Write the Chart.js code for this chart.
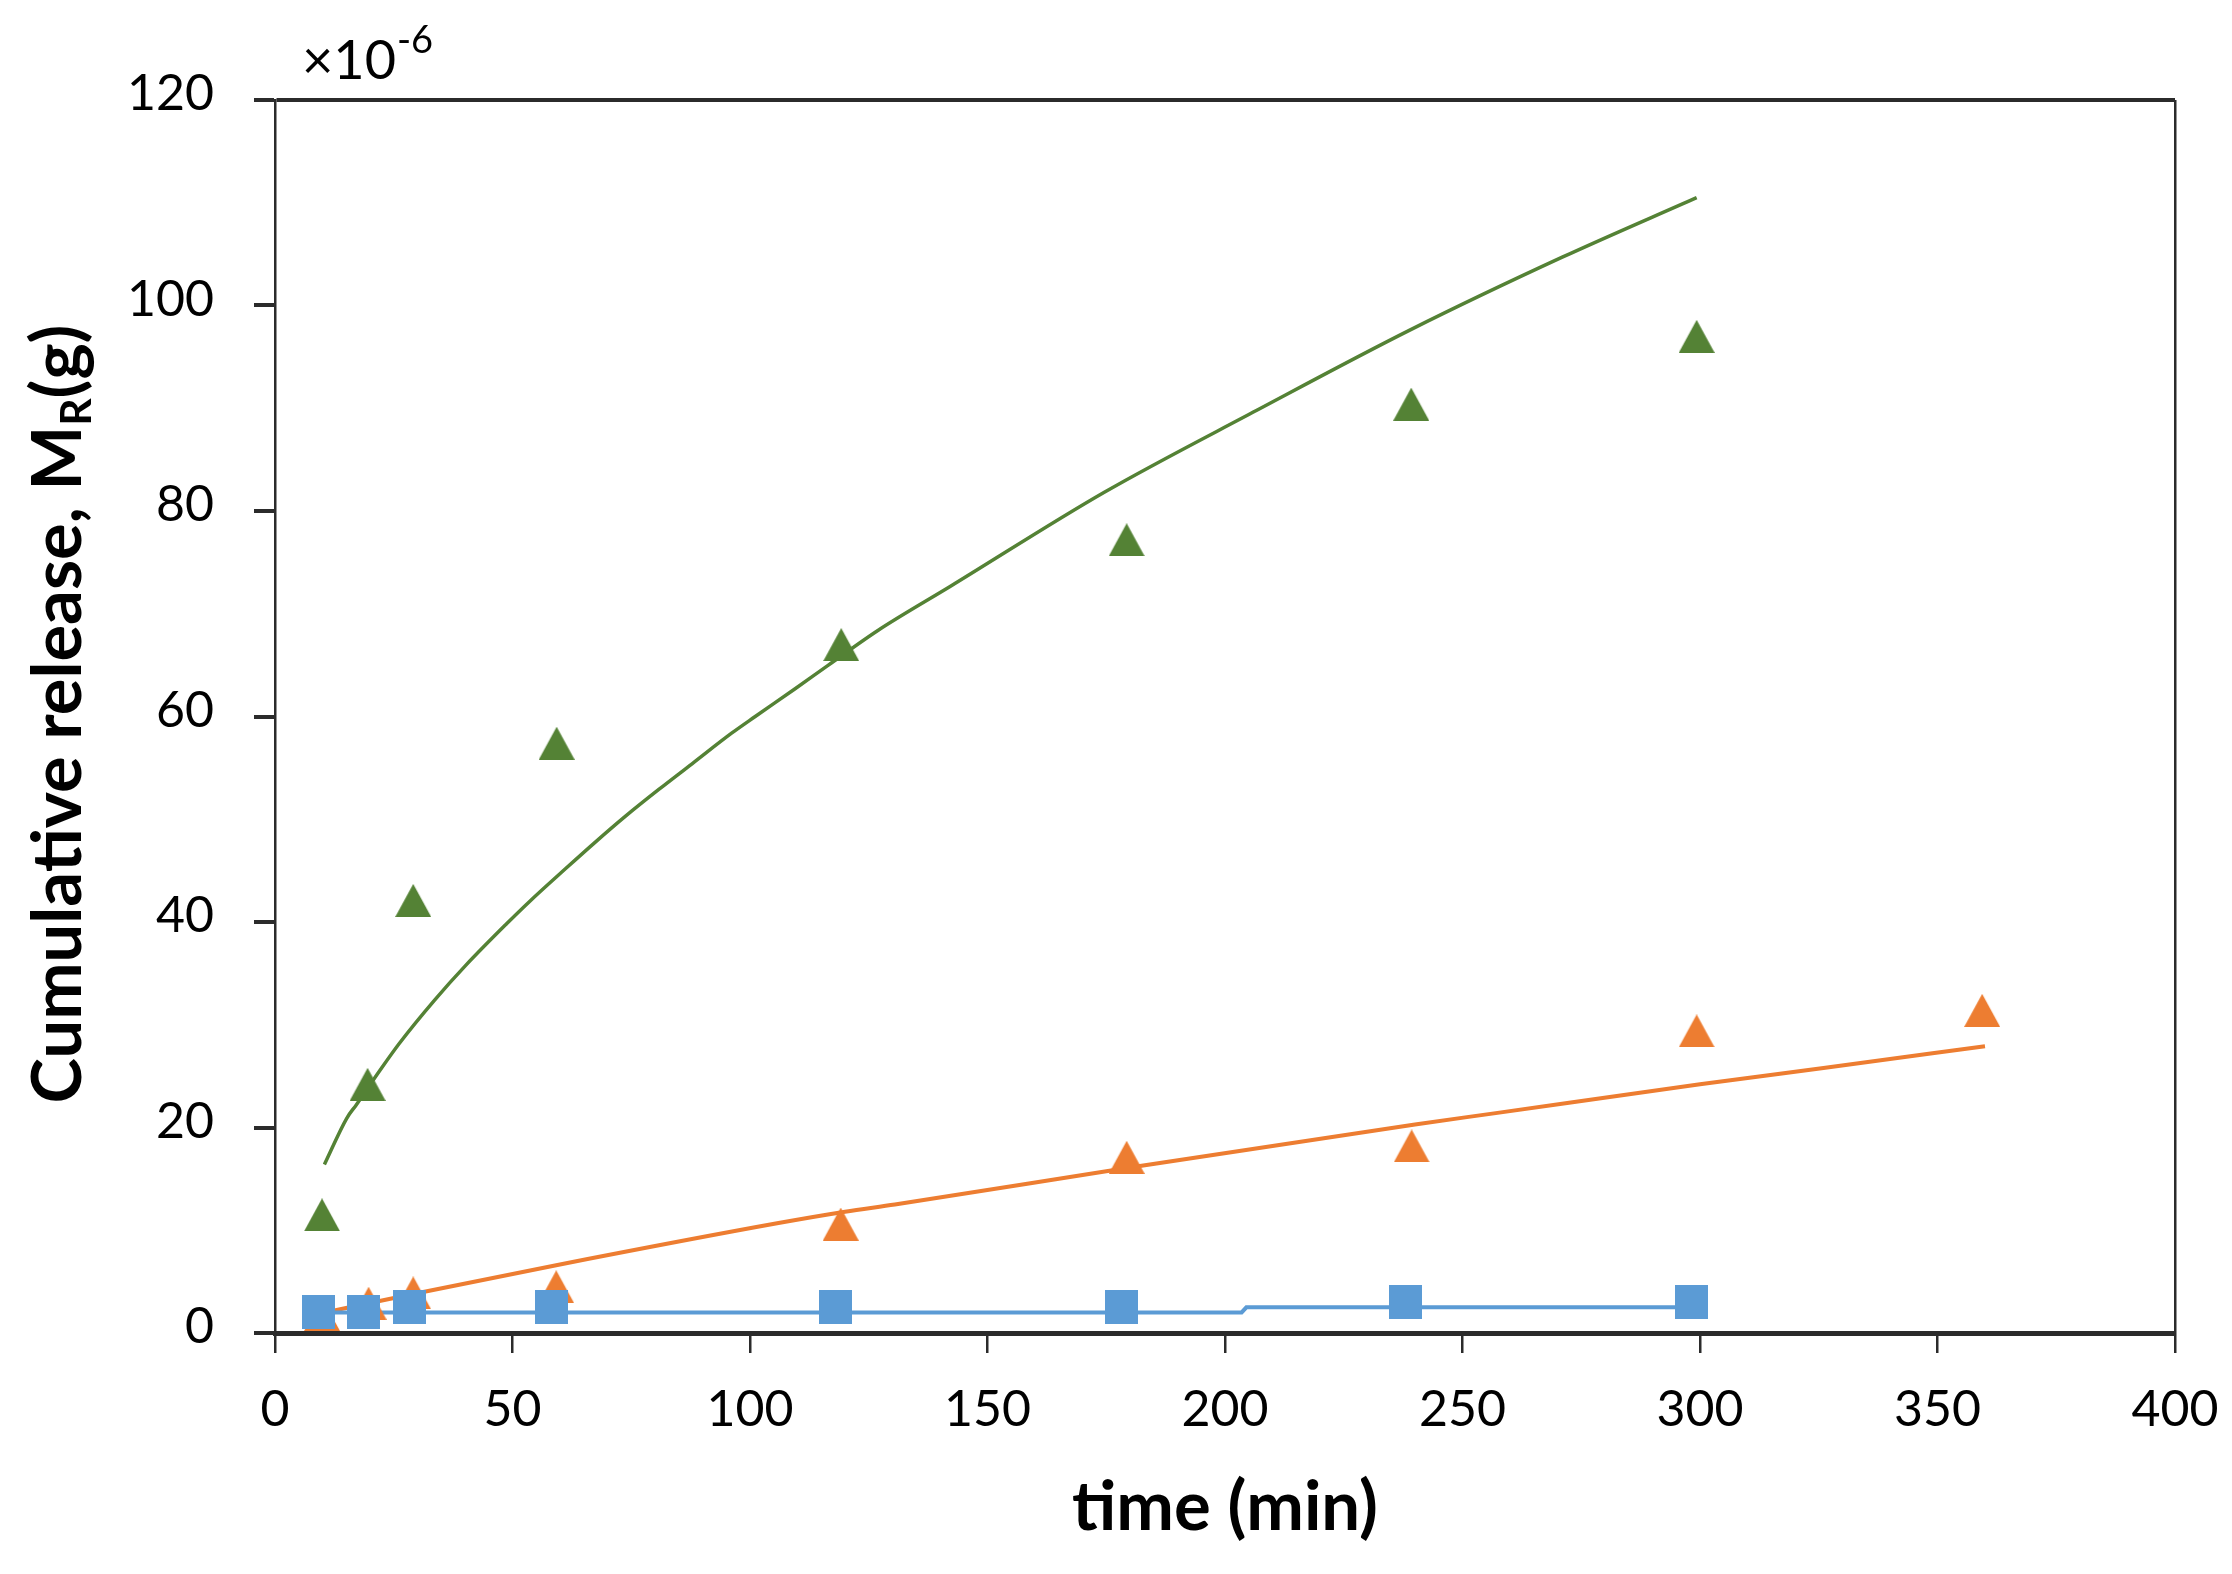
<!DOCTYPE html>
<html>
<head>
<meta charset="utf-8">
<script src="https://cdn.jsdelivr.net/npm/chart.js@4.4.1/dist/chart.umd.min.js"></script>
<style>
  html, body { margin: 0; padding: 0; background: #ffffff; overflow: hidden; }
  #c { display: block; width: 2232px; height: 1574px; }
</style>
</head>
<body>
<canvas id="c" width="2232" height="1574"></canvas>
<script>
// ---------------- data ----------------
const greenTime     = [9.9, 19.5, 29.1, 59.3, 119.2, 179.3, 239.2, 299.3];
const greenRelease  = [11.5, 24.2, 42.1, 57.4, 67.0, 77.2, 90.4, 97.0];

const orangeTime    = [9.9, 19.7, 29.1, 59.2, 119.1, 179.3, 239.3, 299.3, 359.4];
const orangeRelease = [1.8, 2.9, 3.9, 4.5, 10.6, 17.1, 18.2, 29.4, 31.4];

const blueTime      = [9.2, 18.7, 28.4, 58.3, 118.1, 178.2, 238.1, 298.2];
const blueRelease   = [2.0, 2.0, 2.5, 2.5, 2.5, 2.5, 3.0, 3.0];

// fitted trend curves
const greenFitTime    = [10.4, 15.1, 17.1, 22.0, 26.2, 33.6, 40.2, 48.7, 53.6, 61.2, 67.5, 73.8, 80.8, 87.8, 96.2, 101.1, 109.5, 116.5, 127.0, 142.3, 174.5, 206.7, 238.9, 271.0, 299.3];
const greenFitRelease = [16.4, 20.9, 22.2, 25.5, 28.2, 32.4, 35.8, 39.8, 42.0, 45.2, 47.8, 50.3, 52.9, 55.4, 58.4, 60.0, 62.7, 65.0, 68.4, 72.7, 81.8, 89.8, 97.6, 104.7, 110.5];

const orangeFitTime    = [10.5, 29.1, 59.2, 106.0, 120.0, 130.5, 180.0, 240.0, 257.0, 300.0, 326.0, 360.0];
const orangeFitRelease = [2.0, 3.8, 6.6, 10.7, 11.8, 12.5, 16.1, 20.3, 21.4, 24.2, 25.8, 27.9];

const blueFitTime    = [9.2, 203.5, 204.5, 298.2];
const blueFitRelease = [2.0, 2.0, 2.5, 2.5];

// axis ticks
const xTicks = [0, 50, 100, 150, 200, 250, 300, 350, 400];
const yTicks = [0, 20, 40, 60, 80, 100, 120];

// texts
const xTitleText = 'time (min)';
const yTitleMain = 'Cumulative release, M';
const yTitleSub  = 'R';
const yTitleEnd  = '(g)';
const multiplierBase = '\u00d710';
const multiplierExp  = '-6';

// ---------------- styling ----------------
const FONT = 'Lato, "Open Sans", "Noto Sans", sans-serif';
const GREEN = '#548235', ORANGE = '#ED7D31', BLUE = '#5B9BD5', AXIS = '#2b2b2b';

function pairs(xs, ys) { return xs.map((x, i) => ({ x: x, y: ys[i] })); }

function triangleMarker(color) {
  const c = document.createElement('canvas');
  c.width = 36; c.height = 33;
  const g = c.getContext('2d');
  g.fillStyle = color;
  g.beginPath(); g.moveTo(18, 0); g.lineTo(36, 33); g.lineTo(0, 33); g.closePath(); g.fill();
  return c;
}
function squareMarker(color) {
  const c = document.createElement('canvas');
  c.width = 33; c.height = 34;
  const g = c.getContext('2d');
  g.fillStyle = color; g.fillRect(0, 0, 33, 34);
  return c;
}

// fit title font sizes to the reference text lengths
const mctx = document.createElement('canvas').getContext('2d');
function widthAt(text, weight, size) { mctx.font = weight + ' ' + size + 'px ' + FONT; return mctx.measureText(text).width; }
const xTitleSize = 100 * 306 / widthAt(xTitleText, 'bold', 100);
const ySubRatio = 0.62;
const yTitleSize = 100 * 779 / (widthAt(yTitleMain, 'bold', 100) + widthAt(yTitleSub, 'bold', 100 * ySubRatio) + widthAt(yTitleEnd, 'bold', 100));

const annotations = {
  id: 'annotations',
  afterDraw(chart) {
    const ctx = chart.ctx;
    ctx.save();
    ctx.fillStyle = '#000';
    ctx.textAlign = 'left';
    ctx.textBaseline = 'alphabetic';
    // multiplier above the y axis
    ctx.font = '54px ' + FONT;
    ctx.fillText(multiplierBase, 302, 79);
    const wb = ctx.measureText(multiplierBase).width;
    ctx.font = '38px ' + FONT;
    ctx.fillText(multiplierExp, 302 + wb + 1, 53);
    // rotated y title with subscript
    const S = yTitleSize;
    ctx.translate(81, 714);
    ctx.rotate(-Math.PI / 2);
    ctx.font = 'bold ' + S + 'px ' + FONT;
    const w1 = ctx.measureText(yTitleMain).width;
    const w3 = ctx.measureText(yTitleEnd).width;
    ctx.font = 'bold ' + (S * ySubRatio) + 'px ' + FONT;
    const w2 = ctx.measureText(yTitleSub).width;
    let x = -(w1 + w2 + w3) / 2;
    ctx.font = 'bold ' + S + 'px ' + FONT;
    ctx.fillText(yTitleMain, x, 0); x += w1;
    ctx.font = 'bold ' + (S * ySubRatio) + 'px ' + FONT;
    ctx.fillText(yTitleSub, x, S * 0.14); x += w2;
    ctx.font = 'bold ' + S + 'px ' + FONT;
    ctx.fillText(yTitleEnd, x, 0);
    ctx.restore();
  }
};

const lineBase = { showLine: true, pointRadius: 0, pointHoverRadius: 0, fill: false };

new Chart(document.getElementById('c'), {
  type: 'scatter',
  data: {
    datasets: [
      { label: 'Blue', data: pairs(blueTime, blueRelease), pointStyle: squareMarker(BLUE), backgroundColor: BLUE, borderColor: BLUE, pointRadius: 17, order: 0 },
      { label: 'Orange', data: pairs(orangeTime, orangeRelease), pointStyle: triangleMarker(ORANGE), backgroundColor: ORANGE, borderColor: ORANGE, pointRadius: 18, order: 1 },
      { label: 'Green', data: pairs(greenTime, greenRelease), pointStyle: triangleMarker(GREEN), backgroundColor: GREEN, borderColor: GREEN, pointRadius: 18, order: 2 },
      Object.assign({ label: 'Blue fit', data: pairs(blueFitTime, blueFitRelease), borderColor: BLUE, borderWidth: 4, tension: 0, order: 3 }, lineBase),
      Object.assign({ label: 'Orange fit', data: pairs(orangeFitTime, orangeFitRelease), borderColor: ORANGE, borderWidth: 4, cubicInterpolationMode: 'monotone', order: 4 }, lineBase),
      Object.assign({ label: 'Green fit', data: pairs(greenFitTime, greenFitRelease), borderColor: GREEN, borderWidth: 3.5, cubicInterpolationMode: 'monotone', order: 5 }, lineBase)
    ]
  },
  options: {
    responsive: false,
    animation: false,
    devicePixelRatio: 1,
    layout: { padding: { top: 100, right: 57, left: 0, bottom: 0 } },
    plugins: { legend: { display: false }, tooltip: { enabled: false } },
    scales: {
      x: {
        type: 'linear', position: 'bottom', min: 0, max: 400,
        afterBuildTicks(s) { s.ticks = xTicks.map(v => ({ value: v })); },
        afterFit(s) { s.height = 241; s.paddingLeft = 0; s.paddingRight = 0; },
        border: { display: true, color: AXIS, width: 5 },
        grid: {
          display: true, drawOnChartArea: true, drawTicks: true,
          color: c => (c.tick && c.tick.value === 400) ? AXIS : 'rgba(0,0,0,0)',
          tickColor: AXIS, lineWidth: 2.5, tickWidth: 2.5, tickLength: 20
        },
        ticks: { color: '#000', font: { family: FONT, size: 50 }, padding: 27, maxRotation: 0, autoSkip: false },
        title: { display: true, text: xTitleText, color: '#000', font: { family: FONT, size: xTitleSize, weight: 'bold' }, padding: { top: 0, bottom: 25 } }
      },
      y: {
        type: 'linear', position: 'left', min: 0, max: 120,
        afterBuildTicks(s) { s.ticks = yTicks.map(v => ({ value: v })); },
        afterFit(s) { s.width = 275; s.paddingTop = 0; s.paddingBottom = 0; },
        border: { display: true, color: AXIS, width: 2.5 },
        grid: {
          display: true, drawOnChartArea: true, drawTicks: true,
          color: c => (c.tick && c.tick.value === 120) ? AXIS : 'rgba(0,0,0,0)',
          tickColor: AXIS, lineWidth: 4, tickWidth: 4, tickLength: 21
        },
        ticks: { color: '#000', font: { family: FONT, size: 50 }, padding: 40, labelOffset: -6, autoSkip: false },
        title: { display: false }
      }
    }
  },
  plugins: [annotations]
});
</script>
</body>
</html>
